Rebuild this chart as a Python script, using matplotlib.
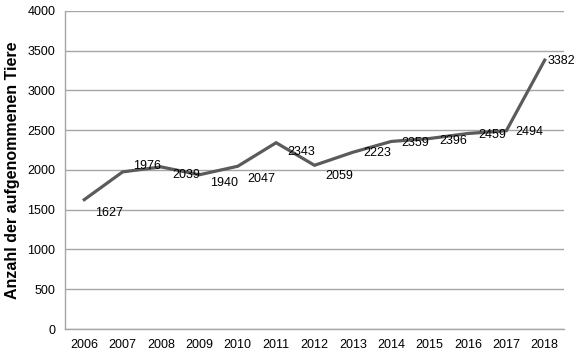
import matplotlib
matplotlib.use('Agg')
import matplotlib.pyplot as plt

# Daten
jahre = ['2006', '2007', '2008', '2009', '2010', '2011', '2012',
         '2013', '2014', '2015', '2016', '2017', '2018']
tiere = [1627, 1976, 2039, 1940, 2047, 2343, 2059,
         2223, 2359, 2396, 2459, 2494, 3382]
# Verschiebung der Beschriftungen (Pixel)
label_dx = [11, 10, 11, 11, 10, 11, 11, 10, 10, 10, 10, 9, 3]
label_dy = [-13, 6, -8, -8, -13, -9, -11, -1, -2, -2, -2, -1, -1]

plt.rcParams['font.family'] = ['Liberation Sans', 'DejaVu Sans']

fig = plt.figure(figsize=(5.76, 3.54), dpi=100)
ax = fig.add_axes([0.113, 0.0706, 0.866, 0.8984])

x = list(range(len(jahre)))
ax.plot(x, tiere, color='#5b5b5b', linewidth=2.3, solid_joinstyle='miter')

for xi, yi, dx, dy in zip(x, tiere, label_dx, label_dy):
    ax.annotate(str(yi), (xi, yi), xytext=(dx, dy), textcoords='offset pixels',
                ha='left', va='center', fontsize=9, color='black')

ax.set_xlim(-0.5, len(jahre) - 0.5)
ax.set_ylim(0, 4000)
ax.set_yticks(range(0, 4001, 500))
ax.set_xticks(x)
ax.set_xticklabels(jahre)

ax.grid(True, axis='y', color='#a6a6a6', linewidth=1.0)
ax.set_axisbelow(True)
for s in ['top', 'right']:
    ax.spines[s].set_visible(False)
for s in ['left', 'bottom']:
    ax.spines[s].set_color('#a6a6a6')
    ax.spines[s].set_linewidth(1.0)
ax.tick_params(length=0, labelsize=9, pad=7)

ax.set_ylabel('Anzahl der aufgenommenen Tiere', fontsize=11.5,
              fontweight='bold', labelpad=5)

fig.savefig('out.png', dpi=100)
